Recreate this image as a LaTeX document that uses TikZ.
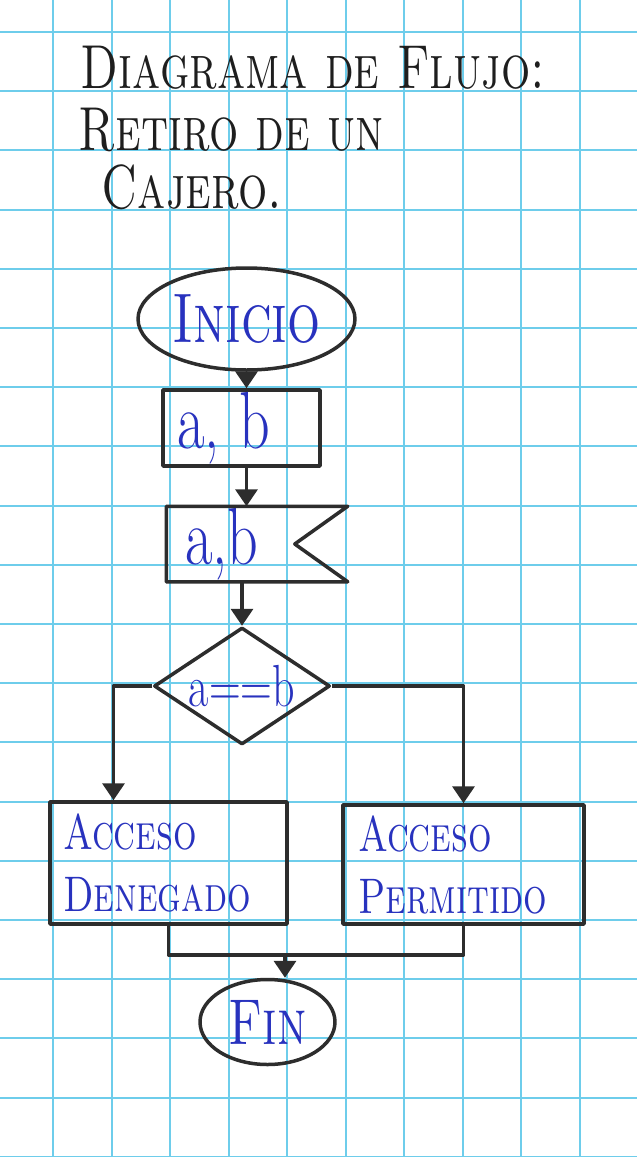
\documentclass[tikz,border=0pt]{standalone}
\usepackage{fontspec}
\usepackage{graphicx}
\usetikzlibrary{shapes.geometric, arrows.meta}

\definecolor{tinta}{RGB}{40,50,190}
\definecolor{trazo}{RGB}{45,45,45}
\definecolor{negro}{RGB}{30,30,30}
\definecolor{cuadricula}{RGB}{110,205,235}
\newcommand{\mano}[1]{\scalebox{1}[1.35]{#1}}

\begin{document}
\begin{tikzpicture}[x=1pt, y=-1pt, >={Triangle[width=22pt,length=17pt]}, line width=3.5pt, line join=round,
		every node/.style={text=tinta, inner sep=0pt},
		rejilla/.style={line width=2pt, cuadricula},
		titulo/.style={anchor=base west, text=negro, font=\fontsize{46}{46}\selectfont\scshape},
		caja/.style={draw=trazo, rectangle, align=left},
		terminal/.style={draw=trazo, ellipse},
		flecha/.style={->, trazo},
		linea/.style={trazo}]
		% papel cuadriculado
		\fill[white] (0,0) rectangle (637,1157);
		\useasboundingbox (0,0) rectangle (637,1157);
		\foreach \gx in {0,...,9}
			\draw[rejilla] ({53+58.5*\gx},0) -- ({53+58.5*\gx},1157);
		\foreach \gy in {0,...,19}
			\draw[rejilla] (0,{32+59.2*\gy}) -- (637,{32+59.2*\gy});
		
		% título
		\node[titulo] (tit1) at (79,88) {\mano{Diagrama de Flujo:}};
		\node[titulo] (tit2) at (77,150) {\mano{Retiro de un}};
		\node[titulo] (tit3) at (100,208) {\mano{Cajero.}};
		
		% inicio
		\node[terminal, minimum width=217pt, minimum height=102pt, font=\fontsize{52}{52}\selectfont\scshape] (inicio) at (246.5,319) {\mano{Inicio}};
		
		% entrada de datos
		\node[caja, minimum width=157pt, minimum height=76pt, text width=129pt, inner xsep=14pt, font=\fontsize{60}{60}\selectfont] (dato1) at (241.5,428) {\mano{a, b}};
		
		% lectura (bandera)
		\node[minimum width=178pt, minimum height=72pt, text width=144pt, inner xsep=17pt, align=left, font=\fontsize{60}{60}\selectfont] (lectura) at (257,544) {\mano{a,b}};
		\draw[linea] (lectura.north west) -- (lectura.north east) -- ([xshift=-53pt]lectura.east) -- (lectura.south east) -- (lectura.south west) -- cycle;
		
		% decisión
		\node[draw=trazo, diamond, aspect=1.5, minimum width=176pt, minimum height=117pt, font=\fontsize{44}{44}\selectfont] (cond) at (242,686) {\mano{a==b}};
		
		% resultados
		\node[caja, minimum width=237pt, minimum height=122pt, text width=211pt, inner xsep=13pt, font=\fontsize{37}{62}\selectfont\scshape] (den) at (168.5,863) {\mano{Acceso}\\\mano{Denegado}};
		\node[caja, minimum width=237pt, minimum height=119pt, text width=211pt, inner xsep=15pt, font=\fontsize{37}{62}\selectfont\scshape] (per) at (463.5,864.5) {\mano{Acceso}\\\mano{Permitido}};
		
		% fin
		\node[terminal, minimum width=135pt, minimum height=85pt, font=\fontsize{48}{48}\selectfont\scshape] (fin) at (267.5,1022) {\mano{Fin}};
		\coordinate (union) at (285,955);
		
		% flechas
		\draw[flecha] (inicio.south) -- (inicio.south |- dato1.north);
		\draw[flecha] (inicio.south |- dato1.south) -- (inicio.south |- lectura.north);
		\draw[flecha] (cond.north |- lectura.south) -- (cond.north);
		\draw[flecha] (cond.west) -| ([xshift=-55pt]den.north);
		\draw[flecha] (cond.east) -| (per.north);
		\draw[linea] (den.south) |- (union) -| (per.south);
		\draw[flecha] (union) -- (union |- fin.north);
	\end{tikzpicture}
\end{document}
